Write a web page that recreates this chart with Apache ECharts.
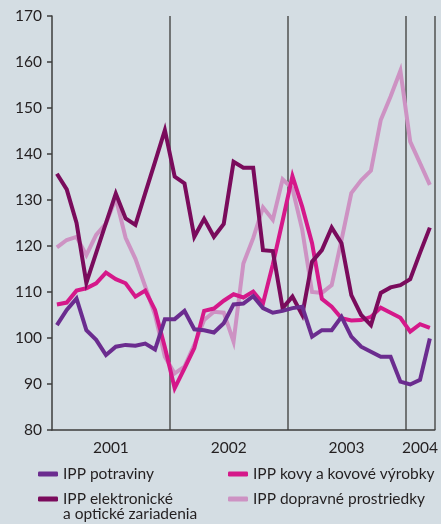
<!DOCTYPE html>
<html>
<head>
<meta charset="utf-8">
<script src="https://cdn.jsdelivr.net/npm/echarts@6/dist/echarts.min.js"></script>
<style>
  html, body { margin: 0; padding: 0; background: #d4dde3; }
  #chart { width: 441px; height: 524px; }
</style>
</head>
<body>
<div id="chart"></div>
<script>
// months Jan 2001 .. Mar 2004
const months = [];
for (let y = 2001; y <= 2004; y++) {
  for (let m = 1; m <= 12; m++) {
    if (y === 2004 && m > 3) break;
    months.push(y + '-' + (m < 10 ? '0' + m : m));
  }
}

const potraviny = [
  102.8, 106.1, 108.6, 101.7, 99.6, 96.3, 98.1, 98.5, 98.3, 98.8, 97.5, 104.1,
  104.1, 105.9, 101.9, 101.7, 101.2, 103.2, 107.3, 107.5, 109.1, 106.5, 105.5, 105.9,
  106.5, 106.8, 100.3, 101.7, 101.7, 104.6, 100.3, 98.1, 97.0, 95.9, 95.9, 90.5,
  89.9, 90.9, 99.9
];
const kovy = [
  107.3, 107.7, 110.3, 110.8, 111.9, 114.2, 112.8, 111.9, 109.0, 110.3, 106.1, 98.0,
  89.1, 93.4, 97.8, 105.9, 106.4, 108.1, 109.5, 108.8, 110.1, 107.5, 116.0, 125.5,
  135.2, 128.5, 120.6, 108.5, 106.8, 104.3, 103.8, 103.9, 104.6, 106.6, 105.5, 104.4,
  101.4, 103.0, 102.2
];
const elektronicke = [
  135.7, 132.3, 125.0, 112.0, 118.5, 125.0, 131.4, 126.0, 124.6, 131.5, 138.3, 145.2,
  135.1, 133.6, 122.0, 125.9, 122.0, 124.8, 138.3, 137.0, 137.0, 119.1, 118.9, 106.5,
  109.0, 105.0, 116.6, 119.1, 124.0, 120.6, 109.3, 105.0, 102.8, 109.8, 111.0, 111.5,
  112.8, 118.5, 124.0
];
const dopravne = [
  119.7, 121.3, 122.0, 118.0, 122.4, 124.9, 130.4, 121.8, 117.2, 111.2, 105.0, 95.9,
  92.3, 93.8, 98.5, 103.9, 105.7, 105.5, 99.2, 116.2, 121.7, 128.4, 125.7, 134.5,
  132.5, 123.5, 110.0, 109.8, 111.5, 121.3, 131.5, 134.3, 136.4, 147.4, 152.5, 158.1,
  142.7, 138.0, 133.3
];
const yearTicks = [6, 18, 30, 37.5];

const names = ['IPP potraviny', 'IPP kovy a kovové výrobky', 'IPP elektronické', 'IPP dopravné prostriedky'];
const colors = ['#6b2c8f', '#d5188a', '#7a0b5c', '#cd92c3'];

const fontFam = 'Lato, "Noto Sans", sans-serif';
const textCol = '#231f20';

const myChart = echarts.init(document.getElementById('chart'));

const mkSeries = (name, data, color) => ({
  name: name,
  type: 'line',
  data: data,
  symbol: 'none',
  color: color,
  lineStyle: { width: 4, color: color, join: 'miter' },
  emphasis: { disabled: true },
  animation: false
});

const mkLegend = (name, left, top) => ({
  data: [name],
  left: left,
  top: top,
  padding: 0,
  icon: 'roundRect',
  itemWidth: 20,
  itemHeight: 5,
  textStyle: { color: textCol, fontSize: 15.5, fontFamily: fontFam },
  selectedMode: false
});

const option = {
  backgroundColor: '#d4dde3',
  grid: { left: 52, right: 2, top: 16, bottom: 94 },
  legend: [
    mkLegend(names[0], 38, 466),
    mkLegend(names[1], 228, 466),
    mkLegend(names[2], 38, 491),
    mkLegend(names[3], 228, 491)
  ],
  graphic: [{
    type: 'text',
    left: 63,
    top: 506,
    style: { text: 'a optické zariadenia', fill: textCol, fontSize: 15.5, fontFamily: fontFam }
  }],
  xAxis: [
    {
      type: 'category',
      data: months,
      boundaryGap: true,
      axisLine: { lineStyle: { color: '#3c3c3c', width: 1.5 } },
      axisTick: { show: false },
      axisLabel: { show: false },
      splitLine: {
        show: true,
        interval: (i) => i > 0 && i % 12 === 0,
        lineStyle: { color: '#505050', width: 1.5 }
      }
    },
    {
      type: 'value',
      min: 0,
      max: 39,
      position: 'bottom',
      axisLine: { show: false },
      axisTick: { show: false },
      splitLine: { show: false },
      axisLabel: {
        customValues: yearTicks,
        formatter: (v) => String(2001 + Math.floor(v / 12)),
        color: textCol,
        fontSize: 15.5,
        fontFamily: fontFam,
        margin: 10
      }
    }
  ],
  yAxis: {
    type: 'value',
    min: 80,
    max: 170,
    interval: 10,
    axisLine: { show: true, lineStyle: { color: '#3c3c3c', width: 1.5 } },
    axisTick: { show: true, length: 5, lineStyle: { color: '#3c3c3c', width: 1.5 } },
    axisLabel: { color: textCol, fontSize: 15.5, fontFamily: fontFam, margin: 10 },
    splitLine: { show: false }
  },
  series: [
    mkSeries(names[3], dopravne, colors[3]),
    mkSeries(names[1], kovy, colors[1]),
    mkSeries(names[2], elektronicke, colors[2]),
    mkSeries(names[0], potraviny, colors[0])
  ]
};

myChart.setOption(option);
</script>
</body>
</html>
